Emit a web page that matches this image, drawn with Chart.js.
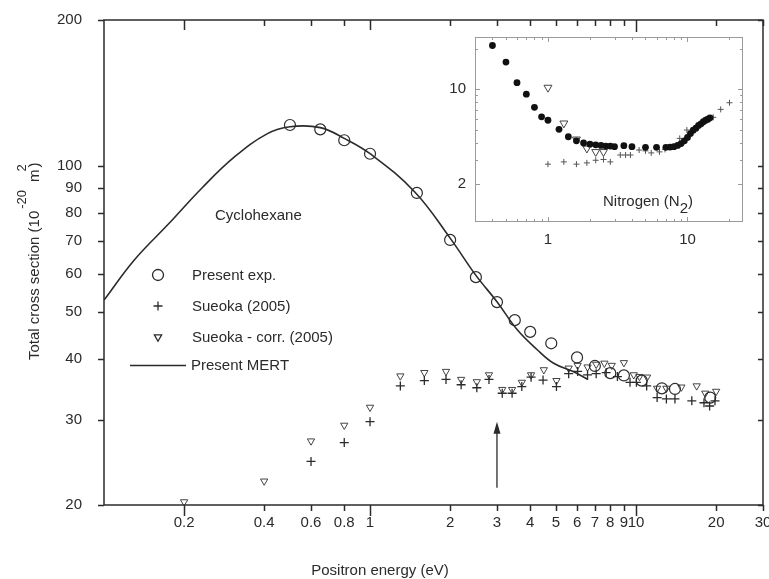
<!DOCTYPE html>
<html>
<head>
<meta charset="utf-8">
<script src="https://cdn.jsdelivr.net/npm/chart.js@4.4.1/dist/chart.umd.min.js"></script>
<style>
  html, body { margin: 0; padding: 0; background: #fff; overflow: hidden; }
  #wrap { position: relative; width: 769px; height: 579px; overflow: hidden; }
  #main { position: absolute; left: 0; top: 0; }
  #inset { position: absolute; left: 420px; top: 0; }
</style>
</head>
<body>
<div id="wrap">
  <canvas id="main" width="790" height="579"></canvas>
  <canvas id="inset" width="340" height="260"></canvas>
</div>
<script>
const FONT = "'Liberation Sans', Arial, sans-serif";
const INK = "#2b2b2b";

// cyclohexane, main panel
const expEnergy = [0.5, 0.65, 0.8, 1.0, 1.5, 2.0, 2.5, 3.0, 3.5, 4.0, 4.8, 6.0, 7.0, 8.0, 9.0, 10.5, 12.5, 14.0, 19.0];
const expCross = [121.5, 119, 113, 106, 88, 70.4, 59, 52.4, 48.1, 45.5, 43.1, 40.3, 38.7, 37.4, 37.0, 36.1, 34.8, 34.7, 33.3];

const sueokaEnergy = [0.6, 0.8, 1.0, 1.3, 1.6, 1.93, 2.2, 2.52, 2.8, 3.14, 3.42, 3.72, 4.03, 4.47, 5.02, 5.58, 6.03, 6.57, 7.08, 7.72, 8.51, 9.49, 10.03, 10.96, 12.0, 13.0, 14.0, 16.2, 18.0, 18.9, 19.8];
const sueokaCross = [24.6, 26.9, 29.7, 35.2, 36.1, 36.3, 35.4, 34.9, 36.3, 34.0, 34.0, 35.1, 36.7, 36.2, 35.1, 37.3, 37.7, 37.1, 37.3, 37.5, 36.8, 35.8, 35.8, 35.2, 33.3, 33.1, 33.1, 32.8, 32.5, 32.0, 32.8];

const corrEnergy = [0.2, 0.4, 0.6, 0.8, 1.0, 1.3, 1.6, 1.93, 2.2, 2.52, 2.8, 3.14, 3.42, 3.72, 4.03, 4.5, 5.02, 5.58, 6.03, 6.57, 7.08, 7.6, 8.1, 9.0, 9.8, 10.3, 11.0, 12.0, 13.0, 14.8, 16.9, 18.2, 20.0];
const corrCross = [20.3, 22.4, 27.1, 29.2, 31.8, 36.9, 37.5, 37.7, 36.3, 35.9, 37.1, 34.6, 34.6, 35.8, 37.1, 38.0, 36.1, 38.3, 38.8, 38.5, 39.0, 39.2, 38.8, 39.3, 37.1, 36.8, 36.7, 34.8, 34.8, 35.0, 35.2, 34.0, 34.3];

const mertEnergy = [0.1, 0.13, 0.175, 0.233, 0.31, 0.41, 0.5, 0.65, 0.8, 1.0, 1.47, 2.0, 2.5, 3.0, 3.57, 4.25, 4.9, 5.8, 6.6];
const mertCross = [52.9, 64, 76, 90, 104.5, 116.5, 120.5, 120, 114, 106, 88.5, 71, 59.5, 52.5, 46, 41.8, 39.2, 37.7, 36.3];

const xTicks = [0.2, 0.4, 0.6, 0.8, 1, 2, 3, 4, 5, 6, 7, 8, 9, 10, 20, 30];
const xTickLabels = ["0.2", "0.4", "0.6", "0.8", "1", "2", "3", "4", "5", "6", "7", "8", "9", "10", "20", "30"];
const xLongTicks = [0.2, 1, 10];
const yTicks = [20, 30, 40, 50, 60, 70, 80, 90, 100, 200];

const arrowEnergy = 3;
const arrowFrom = 21.7;
const arrowTo = 29.7;

// nitrogen inset
const n2Energy = [0.4, 0.5, 0.6, 0.7, 0.8, 0.9, 1.0, 1.2, 1.4, 1.6, 1.8, 2.0, 2.2, 2.4, 2.6, 2.8, 3.0, 3.5, 4.0, 5.0, 6.0, 7.0, 7.5, 8.0, 8.5, 9.0, 9.5, 10, 10.5, 11, 11.5, 12, 12.5, 13, 13.5, 14, 14.5];
const n2Cross = [21.1, 15.9, 11.2, 9.2, 7.35, 6.25, 5.9, 5.05, 4.45, 4.15, 4.0, 3.92, 3.88, 3.84, 3.8, 3.8, 3.76, 3.82, 3.76, 3.72, 3.72, 3.72, 3.73, 3.76, 3.84, 3.96, 4.15, 4.4, 4.7, 4.98, 5.15, 5.4, 5.55, 5.75, 5.9, 6.0, 6.15];

const n2SueokaEnergy = [1.0, 1.3, 1.6, 1.9, 2.2, 2.5, 2.8, 3.3, 3.6, 3.9, 4.5, 5.0, 5.5, 6.3, 6.9, 8.8, 9.9, 15.3, 17.3, 20.0];
const n2SueokaCross = [2.79, 2.9, 2.79, 2.85, 2.98, 3.02, 2.9, 3.26, 3.26, 3.26, 3.55, 3.5, 3.38, 3.44, 3.59, 4.33, 4.99, 6.2, 7.1, 7.95];

const n2CorrEnergy = [1.0, 1.3, 1.6, 1.9, 2.2, 2.5];
const n2CorrCross = [10.3, 5.6, 4.26, 3.65, 3.44, 3.44];

const insetXTicks = [1, 10];
const insetYTicks = [2, 10];
const insetXMarks = [0.4, 0.5, 0.6, 0.7, 0.8, 0.9, 1, 2, 3, 4, 5, 6, 7, 8, 9, 10, 20];
const insetYMarks = [2, 3, 4, 5, 6, 7, 8, 9, 10, 20];


const pts = (xs, ys) => xs.map((x, i) => ({ x: x, y: ys[i] }));

const expStyle = { pointStyle: "circle", radius: 5.5, rotation: 0, borderWidth: 1.2 };
const sueokaStyle = { pointStyle: "cross", radius: 4.5, rotation: 0, borderWidth: 1.3 };
const corrStyle = { pointStyle: "triangle", radius: 4.2, rotation: 180, borderWidth: 1 };

function tickFont() {
  return { family: FONT, size: 15 };
}

// labels are placed by the hidden tick length, so ticks.padding stays small
function hiddenGrid(len) {
  return { display: false, drawTicks: true, tickLength: len };
}

function strokeMarks(ctx, scale, values, fixed, dir, lenFor, vertical) {
  values.forEach((v) => {
    const p = Math.round(scale.getPixelForValue(v)) + 0.5;
    const len = lenFor(v);
    if (vertical) {
      ctx.moveTo(p, fixed);
      ctx.lineTo(p, fixed + dir * len);
    } else {
      ctx.moveTo(fixed, p);
      ctx.lineTo(fixed + dir * len, p);
    }
  });
}

const mainDecor = {
  id: "mainDecor",
  afterDraw(chart) {
    const { ctx, chartArea: a, scales } = chart;
    const x = scales.x;
    const y = scales.y;

    ctx.save();
    ctx.strokeStyle = INK;
    ctx.lineWidth = 1.5;
    ctx.strokeRect(a.left, a.top, a.right - a.left, a.bottom - a.top);

    ctx.beginPath();
    const bottomLen = (v) => (xLongTicks.includes(v) ? 11 : 6);
    const topLen = (v) => (v === 10 ? 12 : xLongTicks.includes(v) ? 10 : 6);
    strokeMarks(ctx, x, xTicks, a.bottom, 1, bottomLen, true);
    strokeMarks(ctx, x, xTicks, a.top, 1, topLen, true);
    strokeMarks(ctx, y, yTicks, a.left, -1, () => 6, false);
    strokeMarks(ctx, y, yTicks, a.right, -1, () => 5, false);
    ctx.stroke();

    // arrow at 3 eV
    const ax = x.getPixelForValue(arrowEnergy);
    const y0 = y.getPixelForValue(arrowFrom);
    const y1 = y.getPixelForValue(arrowTo);
    ctx.lineWidth = 1.3;
    ctx.beginPath();
    ctx.moveTo(ax, y0);
    ctx.lineTo(ax, y1 + 8);
    ctx.stroke();
    ctx.fillStyle = INK;
    ctx.beginPath();
    ctx.moveTo(ax, y1);
    ctx.lineTo(ax - 3.5, y1 + 12);
    ctx.lineTo(ax + 3.5, y1 + 12);
    ctx.closePath();
    ctx.fill();

    // legend
    const lx = a.left + 54;
    const tx = a.left + 88;
    ctx.strokeStyle = INK;
    ctx.fillStyle = "rgba(0,0,0,0)";
    Chart.helpers.drawPoint(ctx, expStyle, lx, 275);
    Chart.helpers.drawPoint(ctx, sueokaStyle, lx, 306);
    Chart.helpers.drawPoint(ctx, corrStyle, lx, 337);
    ctx.lineWidth = 1.5;
    ctx.beginPath();
    ctx.moveTo(a.left + 26, 365.5);
    ctx.lineTo(a.left + 82, 365.5);
    ctx.stroke();

    ctx.fillStyle = INK;
    ctx.font = "15px " + FONT;
    ctx.textBaseline = "middle";
    ctx.textAlign = "left";
    ctx.fillText("Present exp.", tx, 276);
    ctx.fillText("Sueoka (2005)", tx, 307);
    ctx.fillText("Sueoka - corr. (2005)", tx, 338);
    ctx.fillText("Present MERT", tx - 1, 366);
    ctx.fillText("Cyclohexane", 215, 216);

    // x title
    ctx.textAlign = "center";
    ctx.fillText("Positron energy (eV)", 380, 571);

    // y title with superscripts
    ctx.translate(39, 360);
    ctx.rotate(-Math.PI / 2);
    ctx.textAlign = "left";
    ctx.textBaseline = "alphabetic";
    const main = "Total cross section (10";
    ctx.font = "15px " + FONT;
    ctx.fillText(main, 0, 0);
    let pos = ctx.measureText(main).width + 2;
    ctx.font = "13px " + FONT;
    ctx.fillText("-20", pos, -13);
    pos += ctx.measureText("-20").width + 8;
    ctx.font = "15px " + FONT;
    ctx.fillText("m", pos, 0);
    pos += ctx.measureText("m").width;
    ctx.font = "13px " + FONT;
    ctx.fillText("2", pos - 2, -13);
    ctx.font = "15px " + FONT;
    ctx.fillText(")", pos + 2, 0);
    ctx.restore();
  }
};

new Chart(document.getElementById("main"), {
  type: "scatter",
  data: {
    datasets: [
      {
        label: "Present MERT",
        data: pts(mertEnergy, mertCross),
        showLine: true,
        borderColor: INK,
        borderWidth: 1.6,
        pointRadius: 0,
        tension: 0.4
      },
      {
        label: "Present exp.",
        data: pts(expEnergy, expCross),
        pointStyle: expStyle.pointStyle,
        pointRadius: expStyle.radius,
        pointBorderWidth: expStyle.borderWidth,
        pointBorderColor: INK,
        pointBackgroundColor: "rgba(0,0,0,0)"
      },
      {
        label: "Sueoka (2005)",
        data: pts(sueokaEnergy, sueokaCross),
        pointStyle: sueokaStyle.pointStyle,
        pointRadius: sueokaStyle.radius,
        pointBorderWidth: sueokaStyle.borderWidth,
        pointBorderColor: INK
      },
      {
        label: "Sueoka - corr. (2005)",
        data: pts(corrEnergy, corrCross),
        pointStyle: corrStyle.pointStyle,
        pointRadius: corrStyle.radius,
        pointRotation: corrStyle.rotation,
        pointBorderWidth: corrStyle.borderWidth,
        pointBorderColor: "#444",
        pointBackgroundColor: "rgba(0,0,0,0)"
      }
    ]
  },
  options: {
    responsive: false,
    animation: false,
    devicePixelRatio: 1,
    layout: { padding: { top: 20, right: 27, bottom: 0, left: 0 } },
    plugins: { legend: { display: false }, tooltip: { enabled: false } },
    scales: {
      x: {
        type: "logarithmic",
        min: 0.1,
        max: 30,
        grid: hiddenGrid(7),
        border: { display: false },
        afterBuildTicks: (s) => { s.ticks = xTicks.map((v) => ({ value: v })); },
        afterFit: (s) => { s.height = 74; },
        ticks: {
          autoSkip: false,
          maxRotation: 0,
          minRotation: 0,
          padding: 2,
          color: INK,
          font: tickFont(),
          callback: (v, i) => xTickLabels[i]
        }
      },
      y: {
        type: "logarithmic",
        min: 20,
        max: 200,
        grid: hiddenGrid(20),
        border: { display: false },
        afterBuildTicks: (s) => { s.ticks = yTicks.map((v) => ({ value: v })); },
        afterFit: (s) => { s.width = 104; },
        ticks: {
          autoSkip: false,
          padding: 2,
          color: INK,
          font: tickFont(),
          callback: (v) => String(v)
        }
      }
    }
  },
  plugins: [mainDecor]
});


const insetDecor = {
  id: "insetDecor",
  afterDraw(chart) {
    const { ctx, chartArea: a, scales } = chart;
    ctx.save();
    ctx.strokeStyle = "#9a9a9a";
    ctx.lineWidth = 1;
    ctx.strokeRect(a.left + 0.5, a.top + 0.5, a.right - a.left - 1, a.bottom - a.top - 1);
    ctx.beginPath();
    const xl = (v) => (insetXTicks.includes(v) ? 5 : 3);
    const yl = (v) => (insetYTicks.includes(v) ? 5 : 3);
    strokeMarks(ctx, scales.x, insetXMarks, a.bottom, -1, xl, true);
    strokeMarks(ctx, scales.x, insetXMarks, a.top, 1, xl, true);
    strokeMarks(ctx, scales.y, insetYMarks, a.left, 1, yl, false);
    strokeMarks(ctx, scales.y, insetYMarks, a.right, -1, yl, false);
    ctx.stroke();

    ctx.fillStyle = INK;
    ctx.font = "15px " + FONT;
    ctx.textBaseline = "middle";
    ctx.textAlign = "left";
    const label = "Nitrogen (N";
    ctx.fillText(label, 183, 202);
    const w = ctx.measureText(label).width;
    ctx.fillText("2", 183 + w, 209);
    ctx.fillText(")", 183 + w + ctx.measureText("2").width, 202);
    ctx.restore();
  }
};

new Chart(document.getElementById("inset"), {
  type: "scatter",
  data: {
    datasets: [
      {
        label: "N2 present",
        data: pts(n2Energy, n2Cross),
        pointStyle: "circle",
        pointRadius: 3.4,
        pointBorderWidth: 0,
        pointBackgroundColor: "#111"
      },
      {
        label: "N2 Sueoka",
        data: pts(n2SueokaEnergy, n2SueokaCross),
        pointStyle: "cross",
        pointRadius: 3,
        pointBorderWidth: 1,
        pointBorderColor: "#555"
      },
      {
        label: "N2 Sueoka corr.",
        data: pts(n2CorrEnergy, n2CorrCross),
        pointStyle: "triangle",
        pointRadius: 4.6,
        pointRotation: 180,
        pointBorderWidth: 1,
        pointBorderColor: "#444",
        pointBackgroundColor: "rgba(0,0,0,0)"
      }
    ]
  },
  options: {
    responsive: false,
    animation: false,
    devicePixelRatio: 1,
    layout: { padding: { top: 37, right: 17, bottom: 0, left: 0 } },
    plugins: { legend: { display: false }, tooltip: { enabled: false } },
    scales: {
      x: {
        type: "logarithmic",
        min: 0.3,
        max: 25,
        grid: hiddenGrid(7),
        border: { display: false },
        afterBuildTicks: (s) => { s.ticks = insetXTicks.map((v) => ({ value: v })); },
        afterFit: (s) => { s.height = 38; },
        ticks: { autoSkip: false, maxRotation: 0, padding: 2, color: INK, font: tickFont(), callback: (v) => String(v) }
      },
      y: {
        type: "logarithmic",
        min: 1.04,
        max: 24.4,
        grid: hiddenGrid(7),
        border: { display: false },
        afterBuildTicks: (s) => { s.ticks = insetYTicks.map((v) => ({ value: v })); },
        afterFit: (s) => { s.width = 55; },
        ticks: { autoSkip: false, padding: 2, color: INK, font: tickFont(), callback: (v) => String(v) }
      }
    }
  },
  plugins: [insetDecor]
});
</script>
</body>
</html>
